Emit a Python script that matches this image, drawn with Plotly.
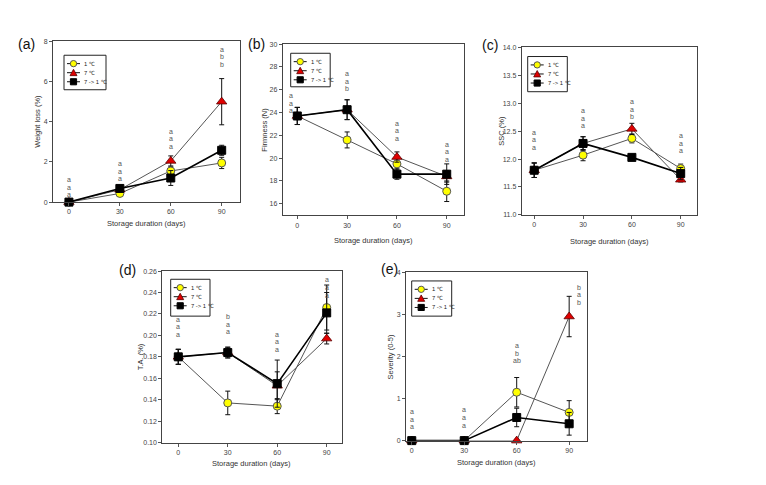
import plotly.graph_objects as go

W, H = 766, 485

# ---------------- data ----------------
days = [0, 30, 60, 90]
series_names = ["1 ℃", "7 ℃", "7 -> 1 ℃"]

# (a) Weight loss (%)
wl_1 = [0.0, 0.43, 1.55, 1.95]
wl_7 = [0.0, 0.62, 2.05, 5.0]
wl_71 = [0.0, 0.68, 1.2, 2.58]
wl_1_err = [0.05, 0.08, 0.2, 0.28]
wl_7_err = [0.05, 0.1, 0.25, 1.15]
wl_71_err = [0.05, 0.1, 0.37, 0.25]

# (b) Firmness (N)
fi_1 = [23.7, 21.6, 19.5, 17.1]
fi_7 = [23.7, 24.25, 20.1, 18.4]
fi_71 = [23.7, 24.25, 18.6, 18.6]
fi_1_err = [0.75, 0.7, 0.45, 0.9]
fi_7_err = [0.75, 0.87, 0.45, 0.5]
fi_71_err = [0.75, 0.87, 0.45, 0.9]

# (c) SSC (%)
ss_1 = [11.8, 12.07, 12.37, 11.83]
ss_7 = [11.8, 12.28, 12.54, 11.63]
ss_71 = [11.8, 12.28, 12.03, 11.74]
ss_1_err = [0.13, 0.1, 0.08, 0.08]
ss_7_err = [0.13, 0.12, 0.1, 0.04]
ss_71_err = [0.13, 0.12, 0.05, 0.11]

# (d) T.A. (%)
ta_1 = [0.18, 0.137, 0.134, 0.226]
ta_7 = [0.18, 0.184, 0.153, 0.197]
ta_71 = [0.18, 0.184, 0.155, 0.221]
ta_1_err = [0.007, 0.011, 0.007, 0.021]
ta_7_err = [0.007, 0.005, 0.013, 0.005]
ta_71_err = [0.007, 0.005, 0.022, 0.019]

# (e) Severity (0-5)
sv_1 = [0.0, 0.0, 1.15, 0.67]
sv_7 = [0.0, 0.0, 0.0, 2.95]
sv_71 = [0.0, 0.0, 0.55, 0.4]
sv_1_err = [0.0, 0.0, 0.35, 0.28]
sv_7_err = [0.0, 0.0, 0.0, 0.48]
sv_71_err = [0.0, 0.0, 0.22, 0.27]

# significance letters (one list per storage day, top to bottom)
letters_a = [["a", "a", "a"], ["a", "a", "a"], ["a", "a", "a"], ["a", "b", "b"]]
letters_b = [["a", "a", "a"], ["a", "a", "b"], ["a", "a", "a"], ["a", "a", "a"]]
letters_c = [["a", "a", "a"], ["a", "a", "a"], ["a", "a", "b"], ["a", "a", "a"]]
letters_d = [["a", "a", "a"], ["b", "a", "a"], ["a", "a", "a"], ["a", "a", "a"]]
letters_e = [["a", "a", "a"], ["a", "a", "a"], ["a", "b", "ab"], ["b", "a", "b"]]

# ---------------- layout / style config ----------------
FONT = "Liberation Sans, Arial, sans-serif"
panels = [
    dict(tag="(a)", ys=[wl_1, wl_7, wl_71], es=[wl_1_err, wl_7_err, wl_71_err],
         box=(53, 239.5, 38, 201), xr=[-9.4, 100.5], yr=[0, 8], dtick=2, fmt="d",
         ytitle="Weight loss (%)", letters=letters_a, lpos=[1.13, 1.92, 3.54, 7.62],
         lshift=[0, 0, 0, 0], tagpos=(26, 41), leg=(64, 52, 42, 35), ytpos=38, xtpos=223),
    dict(tag="(b)", ys=[fi_1, fi_7, fi_71], es=[fi_1_err, fi_7_err, fi_71_err],
         box=(282.7, 464, 40.7, 214.3), xr=[-8.8, 100.4], yr=[15, 30], dtick=2, fmt="d",
         ytitle="Firmness (N)", letters=letters_b, lpos=[25.5, 27.4, 23.06, 21.24],
         lshift=[-6, 0, 0, 0], tagpos=(256, 41), leg=(290.7, 50, 39.5, 34), ytpos=265, xtpos=240),
    dict(tag="(c)", ys=[ss_1, ss_7, ss_71], es=[ss_1_err, ss_7_err, ss_71_err],
         box=(521.7, 697.3, 44, 214), xr=[-7.7, 100.2], yr=[11, 14], dtick=0.5, fmt=".1f",
         ytitle="SSC (%)", letters=letters_c, lpos=[12.48, 12.87, 13.03, 12.42],
         lshift=[0, 0, 0, 0], tagpos=(490, 42), leg=(527.7, 53.3, 39.6, 35.7), ytpos=501.5, xtpos=240.5),
    dict(tag="(d)", ys=[ta_1, ta_7, ta_71], es=[ta_1_err, ta_7_err, ta_71_err],
         box=(162.3, 341.7, 271, 445), xr=[-9.7, 99.1], yr=[0.10, 0.26], dtick=0.02, fmt=".2f",
         ytitle="T.A. (%)", letters=letters_d, lpos=[0.215, 0.2174, 0.2011, 0.2517],
         lshift=[0, 0, 0, 0], tagpos=(127, 270), leg=(170.7, 279.3, 39.3, 37.4), ytpos=140.5, xtpos=466.5),
    dict(tag="(e)", ys=[sv_1, sv_7, sv_71], es=[sv_1_err, sv_7_err, sv_71_err],
         box=(406, 587, 272.3, 443), xr=[-3.3, 100.2], yr=[0, 4], dtick=1, fmt="d",
         ytitle="Severity (0-5)", letters=letters_e, lpos=[0.69, 0.73, 2.26, 3.65],
         lshift=[0, 0, 0, 10], tagpos=(389, 269), leg=(411.7, 281, 40, 35.7), ytpos=390, xtpos=465.5),
]

marker_styles = [
    dict(symbol="circle", color="#ffff00", size=8, line=dict(color="#555555", width=1)),
    dict(symbol="triangle-up", color="#e00000", size=9, line=dict(color="#5a0000", width=0.8)),
    dict(symbol="square", color="#000000", size=8, line=dict(color="#000000", width=1)),
]
line_styles = [
    dict(color="#555555", width=1),
    dict(color="#555555", width=1),
    dict(color="#000000", width=1.6),
]


def X(px):
    return px / W


def Y(py):
    return 1 - py / H


fig = go.Figure()
annotations = []
shapes = []
layout = dict(
    width=W, height=H,
    margin=dict(l=0, r=0, t=0, b=0),
    paper_bgcolor="white", plot_bgcolor="white",
    font=dict(family=FONT, size=7, color="#333333"),
    showlegend=False,
)

for i, p in enumerate(panels, start=1):
    sfx = "" if i == 1 else str(i)
    xa, ya = "x" + sfx, "y" + sfx
    l, r, t, b = p["box"]
    for k in range(3):
        fig.add_trace(go.Scatter(
            x=days, y=p["ys"][k], name=series_names[k],
            mode="lines+markers", xaxis=xa, yaxis=ya,
            line=line_styles[k], marker=marker_styles[k], cliponaxis=False,
            error_y=dict(type="data", array=p["es"][k], visible=True,
                         color="#111111", thickness=1, width=2.5),
        ))
    axis_common = dict(showline=True, linecolor="#444444", linewidth=1, mirror=True,
                       ticks="outside", ticklen=3, tickcolor="#555555", tickwidth=1,
                       showgrid=False, zeroline=False, fixedrange=True,
                       tickfont=dict(family=FONT, size=7, color="#444444"))
    layout["xaxis" + sfx] = dict(axis_common, domain=[X(l), X(r)], range=p["xr"],
                                 anchor=ya, tickvals=days, ticktext=[str(d) for d in days])
    layout["yaxis" + sfx] = dict(axis_common, domain=[Y(b), Y(t)], range=p["yr"],
                                 anchor=xa, dtick=p["dtick"], tick0=0,
                                 tickformat=p["fmt"])
    # panel tag
    annotations.append(dict(text=p["tag"], x=X(p["tagpos"][0]), y=Y(p["tagpos"][1]),
                            xref="paper", yref="paper", showarrow=False,
                            xanchor="center", yanchor="middle",
                            font=dict(family=FONT, size=14, color="#111111")))
    # axis titles
    annotations.append(dict(text="Storage duration (days)", x=X((l + r) / 2), y=Y(p["xtpos"]),
                            xref="paper", yref="paper", showarrow=False,
                            xanchor="center", yanchor="middle",
                            font=dict(family=FONT, size=7.5, color="#333333")))
    annotations.append(dict(text=p["ytitle"], x=X(p["ytpos"]), y=Y((t + b) / 2),
                            xref="paper", yref="paper", textangle=-90, showarrow=False,
                            xanchor="center", yanchor="middle",
                            font=dict(family=FONT, size=7.5, color="#333333")))
    # significance letters
    for d, lets, ytop, xs in zip(days, p["letters"], p["lpos"], p["lshift"]):
        for j, ch in enumerate(lets):
            annotations.append(dict(text=ch, x=d, y=ytop, xref=xa, yref=ya,
                                    xanchor="center", yanchor="middle",
                                    xshift=xs, yshift=-7.6 * j, showarrow=False,
                                    font=dict(family=FONT, size=7, color="#555555")))
    # compact legend box (SigmaPlot style)
    lx, ly, lw, lh = p["leg"]
    shapes.append(dict(type="rect", xref="paper", yref="paper",
                       x0=X(lx), x1=X(lx + lw), y0=Y(ly + lh), y1=Y(ly),
                       line=dict(color="#222222", width=1), fillcolor="white", layer="above"))
    for k in range(3):
        cy = ly + 8.5 + 9.2 * k
        shapes.append(dict(type="line", xref="paper", yref="paper",
                           x0=X(lx + 3), x1=X(lx + 16), y0=Y(cy), y1=Y(cy),
                           line=dict(color="#111111", width=1), layer="above"))
        cx = lx + 9.5
        if k == 0:
            shapes.append(dict(type="circle", xref="paper", yref="paper",
                               x0=X(cx - 3.2), x1=X(cx + 3.2), y0=Y(cy + 3.2), y1=Y(cy - 3.2),
                               line=dict(color="#555555", width=1), fillcolor="#ffff00", layer="above"))
        elif k == 1:
            path = "M {} {} L {} {} L {} {} Z".format(X(cx - 3.5), Y(cy + 3), X(cx + 3.5), Y(cy + 3),
                                                       X(cx), Y(cy - 3.5))
            shapes.append(dict(type="path", xref="paper", yref="paper", path=path,
                               line=dict(color="#5a0000", width=0.8), fillcolor="#e00000", layer="above"))
        else:
            shapes.append(dict(type="rect", xref="paper", yref="paper",
                               x0=X(cx - 3.1), x1=X(cx + 3.1), y0=Y(cy + 3.1), y1=Y(cy - 3.1),
                               line=dict(color="#000000", width=1), fillcolor="#000000", layer="above"))
        annotations.append(dict(text=series_names[k], x=X(lx + 18), y=Y(cy),
                                xref="paper", yref="paper", xanchor="left", yanchor="middle",
                                showarrow=False, font=dict(family=FONT, size=5.8, color="#222222")))

layout["annotations"] = annotations
layout["shapes"] = shapes
fig.update_layout(**layout)
fig.write_html("out.html", config={"displayModeBar": False},
               post_script="document.body.style.margin='0';")
